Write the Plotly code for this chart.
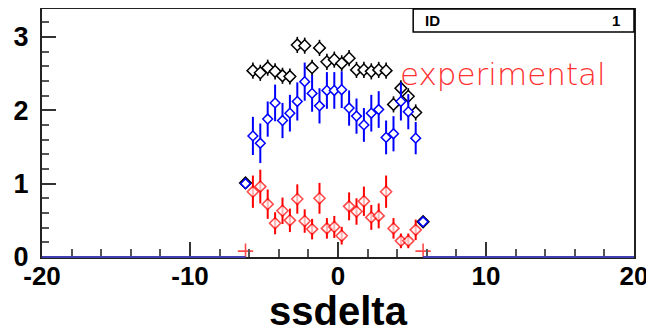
import plotly.graph_objects as go

# bin centres (ssdelta)
bins = [-6.25 + 0.5 * i for i in range(25)]

black_vals = [1.01, 2.54, 2.51, 2.58, 2.53, 2.47, 2.46, 2.89, 2.88, 2.58, 2.85, 2.66, 2.69,
              2.64, 2.71, 2.55, 2.55, 2.53, 2.55, 2.54, 2.08, 2.30, 2.19, 1.97, 0.48]
black_errs = [0.06] + [0.11] * 23 + [0.06]

blue_vals = [1.00, 1.65, 1.55, 1.88, 2.10, 1.86, 1.96, 2.12, 2.39, 2.23, 2.06, 2.27, 2.27,
             2.28, 2.03, 1.92, 1.80, 1.96, 2.01, 1.63, 1.68, 2.12, 1.98, 1.62, 0.48]
blue_errs = [0.06, 0.26, 0.27, 0.24, 0.25, 0.24, 0.25, 0.26, 0.26, 0.25, 0.24, 0.25, 0.25,
             0.25, 0.24, 0.24, 0.23, 0.25, 0.25, 0.23, 0.24, 0.26, 0.24, 0.22, 0.06]

red_vals = [0.08, 0.89, 0.96, 0.72, 0.46, 0.63, 0.50, 0.79, 0.49, 0.38, 0.80, 0.39, 0.41,
            0.29, 0.69, 0.62, 0.76, 0.54, 0.56, 0.89, 0.39, 0.22, 0.22, 0.37, 0.08]
red_errs = [0.0, 0.22, 0.23, 0.20, 0.15, 0.18, 0.16, 0.20, 0.16, 0.14, 0.21, 0.14, 0.15,
            0.12, 0.19, 0.18, 0.20, 0.17, 0.17, 0.22, 0.14, 0.10, 0.10, 0.14, 0.0]

x_ticks = [-20, -10, 0, 10, 20]
y_ticks = [0, 1, 2, 3]
x_range = [-20, 20]
y_range = [0, 3.38]

FONT = "Liberation Sans"

fig = go.Figure()

red_symbols = ["cross-thin" if e == 0 else "diamond" for e in red_errs]
red_sizes = [11 if e == 0 else 8.5 for e in red_errs]

fig.add_trace(go.Scatter(
    x=bins, y=red_vals, mode="markers",
    error_y=dict(type="data", array=red_errs, color="#ff0000", thickness=2, width=0),
    marker=dict(symbol=red_symbols, size=red_sizes, color="white",
                line=dict(color="#ff0000", width=1.6)),
    showlegend=False))

fig.add_trace(go.Scatter(
    x=bins, y=black_vals, mode="markers",
    error_y=dict(type="data", array=black_errs, color="#000000", thickness=1.6, width=0),
    marker=dict(symbol="diamond", size=9, color="white",
                line=dict(color="#000000", width=1.5)),
    showlegend=False))

fig.add_trace(go.Scatter(
    x=bins, y=blue_vals, mode="markers",
    error_y=dict(type="data", array=blue_errs, color="#0000ff", thickness=2, width=0),
    marker=dict(symbol="diamond", size=7.5, color="white",
                line=dict(color="#0000ff", width=1.5)),
    showlegend=False))

# histogram zero-level outside the filled range
fig.add_shape(type="line", xref="x", yref="paper", x0=x_range[0], x1=bins[0], y0=0, y1=0,
              line=dict(color="#4040b0", width=2), layer="above")
fig.add_shape(type="line", xref="x", yref="paper", x0=bins[-1], x1=x_range[1], y0=0, y1=0,
              line=dict(color="#4040b0", width=2), layer="above")

# stats box
fig.add_shape(type="rect", xref="paper", yref="paper", x0=0.627, x1=1.0, y0=0.907, y1=1.0,
              line=dict(color="black", width=1.5), fillcolor="white", layer="above")
fig.add_annotation(xref="paper", yref="paper", x=0.643, y=0.953, text="ID", showarrow=False,
                   xanchor="left", yanchor="middle",
                   font=dict(family=FONT, size=15, color="black", weight="bold"))
fig.add_annotation(xref="paper", yref="paper", x=0.98, y=0.953, text="1", showarrow=False,
                   xanchor="right", yanchor="middle",
                   font=dict(family=FONT, size=15, color="black", weight="bold"))

fig.add_annotation(xref="paper", yref="paper", x=0.601, y=0.738, text="experimental",
                   showarrow=False, xanchor="left", yanchor="middle",
                   font=dict(family="DejaVu Sans", size=31, color="#ff3030", weight=200))

fig.update_xaxes(
    range=x_range, tickvals=x_ticks, ticktext=[str(v) for v in x_ticks],
    ticks="inside", ticklen=15, tickwidth=2, tickcolor="#333333",
    minor=dict(dtick=2, ticks="inside", ticklen=8, tickwidth=2, tickcolor="#555555"),
    showline=True, linecolor="#222222", linewidth=2, mirror=True,
    showgrid=False, zeroline=False, automargin=False,
    ticklabelstandoff=-5,
    tickfont=dict(family=FONT, size=26, color="black", weight="bold"),
    title=dict(text="ssdelta", font=dict(family=FONT, size=40, color="black", weight="bold"),
               standoff=11),
)
fig.update_yaxes(
    range=y_range, tickvals=y_ticks, ticktext=[str(v) for v in y_ticks],
    ticks="inside", ticklen=14, tickwidth=1.5, tickcolor="#333333",
    minor=dict(dtick=0.2, ticks="inside", ticklen=7, tickwidth=1.5, tickcolor="#555555"),
    showline=True, linecolor="#222222", linewidth=2, mirror=True,
    showgrid=False, zeroline=False, automargin=False,
    ticklabelstandoff=6,
    tickfont=dict(family=FONT, size=27, color="black", weight="bold"),
)

# the page body adds an 8 px margin, so the figure is sized to fill the rest
fig.update_layout(
    width=646, height=325,
    margin=dict(l=34, r=20, t=1, b=76),
    paper_bgcolor="white", plot_bgcolor="white",
    showlegend=False,
)

fig.write_html("out.html")
